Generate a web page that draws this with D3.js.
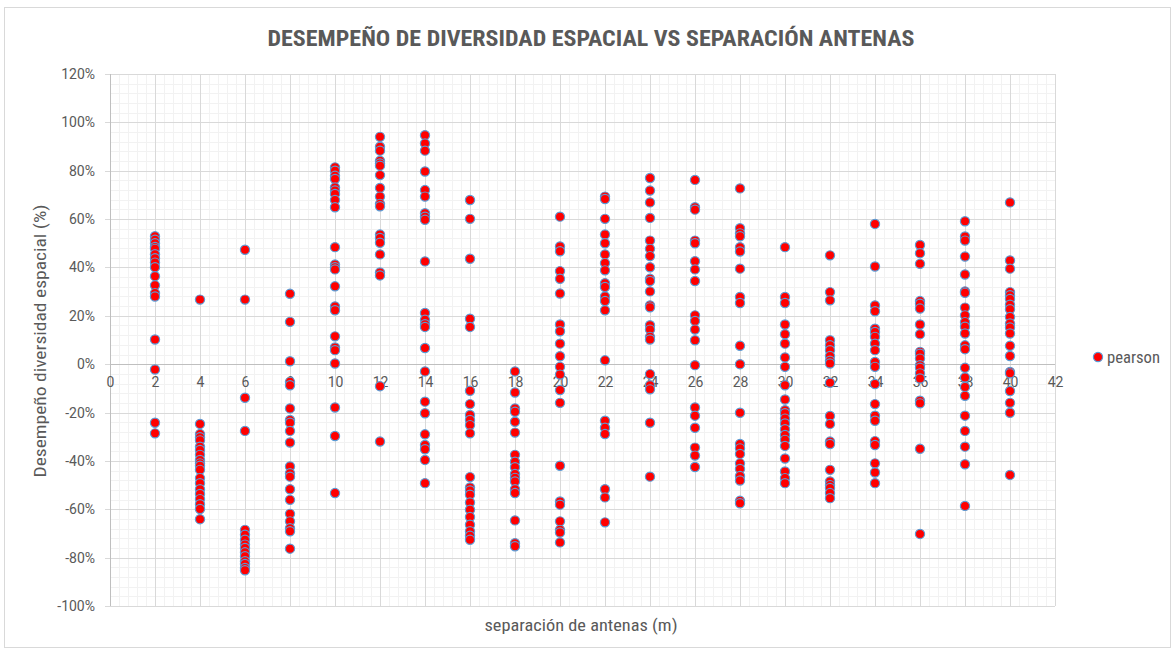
<!DOCTYPE html>
<html>
<head>
<meta charset="utf-8">
<script src="https://cdn.jsdelivr.net/npm/d3@7"></script>
<style>
  body { margin: 0; background: #fff; }
  svg text { font-family: "Liberation Sans Narrow", "Arial Narrow", "Roboto Condensed", Roboto, sans-serif; fill: #595959; }
</style>
</head>
<body>
<svg id="chart" width="1176" height="651"></svg>
<script>
const title = 'DESEMPEÑO DE DIVERSIDAD ESPACIAL VS SEPARACIÓN ANTENAS';
const xLabel = 'separación de antenas (m)';
const yLabel = 'Desempeño diversidad espacial (%)';
const seriesName = 'pearson';

const xTicks = d3.range(0, 43, 2);
const yTicks = d3.range(-100, 121, 20);

// separación (m) -> desempeño (%)
const sep2 = [52.9, 51.5, 50, 48.5, 47.7, 45.5, 43.8, 42, 40.1, 36.4, 32.6, 29.4, 28, 10.2, -2.2, -24.2, -28.6];
const sep4 = [26.7, -24.7, -28.9, -30.2, -31.5, -34.1, -35.5, -37.5, -39.6, -41, -42, -43.7, -47.1, -49.2, -51.7, -53.7, -55.8, -57.9, -59.9, -64.1];
const sep6 = [47.3, 26.7, -13.9, -27.6, -68.5, -70.5, -72.6, -74.6, -76, -77.8, -79.4, -81.5, -82.6, -84.3, -85.2];
const sep8 = [29.1, 17.5, 1.2, -7.3, -8.7, -18.3, -23.1, -24.2, -27.6, -32.4, -42.3, -45.1, -46.5, -51.7, -56.1, -61.9, -65, -67.8, -69.1, -76.3];
const sep10 = [81.4, 80, 77.9, 76.6, 73.1, 71.8, 70.4, 67.9, 64.9, 48.4, 41.2, 40.1, 39.2, 32.2, 23.9, 22.3, 11.5, 6.9, 5.8, 0.3, -17.9, -29.7, -53.3];
const sep12 = [94, 89.9, 88.3, 84.1, 83, 82.1, 78.2, 72.9, 69.3, 66.3, 65.3, 53.6, 52.2, 50.2, 45.4, 37.9, 36.7, -9.1, -32];
const sep14 = [94.7, 91.3, 88.3, 79.7, 72, 69.3, 62.4, 61, 59.7, 42.5, 21.2, 18.4, 16.5, 15.4, 6.7, -3, -15.5, -20.3, -29, -33.4, -35.2, -39.6, -49.2];
const sep16 = [67.9, 60.1, 43.6, 18.8, 15.4, -11, -16.5, -21, -23.1, -25.2, -28.6, -46.7, -51, -52.2, -54, -57.2, -60.2, -63.2, -66.4, -69.1, -70.9, -72.6];
const sep18 = [-3, -11.7, -18.3, -19.7, -23.8, -28.3, -37.5, -40.3, -42.6, -45.4, -47, -48.5, -51.7, -53.3, -64.6, -74, -75.3];
const sep20 = [61, 48.7, 46.7, 38.5, 35.3, 29.2, 16.4, 13.6, 8.5, 3.3, -1.1, -4.3, -10.7, -16, -42, -56.8, -58.1, -65, -68.5, -69.6, -73.7];
const sep22 = [69.3, 68.3, 60.1, 53.6, 50, 45.4, 41.8, 38.8, 33.5, 31.9, 28, 26.1, 22.3, 1.6, -23.4, -26.3, -28.9, -51.7, -55.1, -65.4];
const sep24 = [77, 71.8, 66.9, 60.5, 51.1, 47.7, 44.7, 40.1, 35.3, 34.4, 30.1, 24.3, 23.5, 16.1, 14.3, 11.3, 10.2, -4.1, -8.7, -10.4, -24.2, -46.5];
const sep26 = [76.2, 64.9, 63.9, 51.1, 50, 42.6, 39.2, 34.4, 20.2, 17.9, 14.3, 9.9, -0.4, -17.9, -21.3, -26.3, -34.5, -37.8, -42.5];
const sep28 = [72.7, 56.2, 54.1, 52.9, 48.4, 46.6, 39.5, 27.8, 25.3, 7.6, 0, -20.1, -33, -34.8, -37.1, -41, -43.3, -46.2, -48.1, -56.5, -57.5];
const sep30 = [48.4, 27.8, 25.3, 16.4, 12.4, 8.5, 2.8, -1.1, -8.7, -14.6, -19, -20.3, -22.5, -24.5, -26.9, -29.3, -31.3, -33.8, -39, -44.4, -47.1, -49.2];
const sep32 = [45, 29.8, 26.4, 9.9, 7.8, 5.8, 3.4, 1.4, 0.3, -7.7, -21.4, -24.7, -32, -33, -43.7, -48.5, -50, -51.2, -53.3, -55.4];
const sep34 = [58, 40.4, 24.3, 21.9, 14.7, 13.3, 11.3, 8.5, 5.8, 0.9, -1.1, -8.2, -16.5, -21.3, -23.4, -31.8, -33.4, -41, -44.8, -49.2];
const sep36 = [49.3, 45.9, 41.5, 26.1, 25, 23, 16.4, 12.4, 5.1, 4.3, 2.3, -0.4, -1.5, -3.8, -5.9, -15.1, -16.2, -35, -70.2];
const sep38 = [59.1, 52.8, 51.1, 44.5, 37.1, 30.1, 29.5, 23.4, 20.2, 17.4, 15.5, 12.7, 7.8, 6.2, -1.5, -5.5, -9.4, -13.1, -21.3, -27.6, -34.1, -41.4, -58.6];
const sep40 = [66.9, 42.9, 39.5, 29.8, 28.5, 27, 24.6, 22.7, 19.5, 16.8, 15.2, 12.7, 7.6, 3.4, -3.2, -3.8, -11.1, -16, -20.1, -45.8];

const columns = [
  [2, sep2], [4, sep4], [6, sep6], [8, sep8], [10, sep10], [12, sep12], [14, sep14],
  [16, sep16], [18, sep18], [20, sep20], [22, sep22], [24, sep24], [26, sep26],
  [28, sep28], [30, sep30], [32, sep32], [34, sep34], [36, sep36], [38, sep38], [40, sep40]
];
const points = columns.flatMap(([sep, vals]) => vals.map(v => ({ x: sep, y: v })));

const svg = d3.select('#chart');
const margin = { left: 110, right: 121, top: 74, bottom: 45 };
const width = 1176, height = 651;

const x = d3.scaleLinear().domain([0, 42]).range([margin.left, width - margin.right]);
const y = d3.scaleLinear().domain([-100, 120]).range([height - margin.bottom, margin.top]);

// chart frame
svg.append('rect')
  .attr('x', 4.5).attr('y', 7.5)
  .attr('width', 1166).attr('height', 640)
  .attr('fill', '#fff')
  .attr('stroke', '#d9d9d9');

// minor grid
const grid = svg.append('g');
grid.selectAll('.vminor')
  .data(d3.range(0, 42.01, 0.4))
  .join('line')
  .attr('x1', d => Math.round(x(d)) + 0.5).attr('x2', d => Math.round(x(d)) + 0.5)
  .attr('y1', y(120)).attr('y2', y(-100))
  .attr('stroke', '#f2f2f2');
grid.selectAll('.hminor')
  .data(d3.range(-100, 120.01, 4))
  .join('line')
  .attr('y1', d => Math.round(y(d)) + 0.5).attr('y2', d => Math.round(y(d)) + 0.5)
  .attr('x1', x(0)).attr('x2', x(42))
  .attr('stroke', '#f2f2f2');

// major grid
grid.append('g').selectAll('line')
  .data(xTicks)
  .join('line')
  .attr('x1', d => Math.round(x(d)) + 0.5).attr('x2', d => Math.round(x(d)) + 0.5)
  .attr('y1', y(120)).attr('y2', y(-100))
  .attr('stroke', '#d9d9d9');
grid.append('g').selectAll('line')
  .data(yTicks)
  .join('line')
  .attr('y1', d => Math.round(y(d)) + 0.5).attr('y2', d => Math.round(y(d)) + 0.5)
  .attr('x1', x(0) - 5).attr('x2', x(42))
  .attr('stroke', '#d9d9d9');

// y axis line and x axis at 0
svg.append('line')
  .attr('x1', Math.round(x(0)) + 0.5).attr('x2', Math.round(x(0)) + 0.5)
  .attr('y1', y(120)).attr('y2', y(-100))
  .attr('stroke', '#bfbfbf');
svg.append('line')
  .attr('x1', x(0)).attr('x2', x(42))
  .attr('y1', Math.round(y(0)) + 0.5).attr('y2', Math.round(y(0)) + 0.5)
  .attr('stroke', '#bfbfbf');

// axis labels
const yAxis = svg.append('g')
  .attr('transform', `translate(${x(0) - 6},0)`)
  .call(d3.axisLeft(y).tickValues(yTicks).tickSize(0).tickPadding(9).tickFormat(d => d + '%'));
yAxis.select('.domain').remove();
yAxis.selectAll('text').attr('font-size', 14).style('fill', '#595959')
  .style('font-family', '"Liberation Sans Narrow", "Arial Narrow", Roboto, sans-serif');

const xAxis = svg.append('g')
  .attr('transform', `translate(0,${y(0)})`)
  .call(d3.axisBottom(x).tickValues(xTicks).tickSize(0).tickPadding(13));
xAxis.select('.domain').remove();
xAxis.selectAll('text').attr('font-size', 14).style('fill', '#595959')
  .style('font-family', '"Liberation Sans Narrow", "Arial Narrow", Roboto, sans-serif');

// points
svg.append('g').selectAll('circle')
  .data(points)
  .join('circle')
  .attr('cx', d => x(d.x))
  .attr('cy', d => y(d.y))
  .attr('r', 4.6)
  .attr('fill', '#ff0000')
  .attr('stroke', '#5b9bd5')
  .attr('stroke-width', 1.2);

// title
svg.append('text')
  .attr('x', 591).attr('y', 46)
  .attr('text-anchor', 'middle')
  .attr('font-size', 22)
  .attr('font-weight', 'bold')
  .attr('textLength', 647)
  .attr('lengthAdjust', 'spacingAndGlyphs')
  .text(title);

// axis titles
svg.append('text')
  .attr('x', 581).attr('y', 631)
  .attr('text-anchor', 'middle')
  .attr('font-size', 17)
  .attr('textLength', 193)
  .attr('lengthAdjust', 'spacingAndGlyphs')
  .text(xLabel);
svg.append('text')
  .attr('transform', `translate(46,341) rotate(-90)`)
  .attr('text-anchor', 'middle')
  .attr('font-size', 17)
  .attr('textLength', 273)
  .attr('lengthAdjust', 'spacingAndGlyphs')
  .text(yLabel);

// legend
const legend = svg.append('g').attr('transform', 'translate(1098,357)');
legend.append('circle')
  .attr('r', 4.6)
  .attr('fill', '#ff0000')
  .attr('stroke', '#5b9bd5')
  .attr('stroke-width', 1.2);
legend.append('text')
  .attr('x', 9).attr('y', 6)
  .attr('font-size', 16)
  .attr('textLength', 53)
  .attr('lengthAdjust', 'spacingAndGlyphs')
  .text(seriesName);
</script>
</body>
</html>
